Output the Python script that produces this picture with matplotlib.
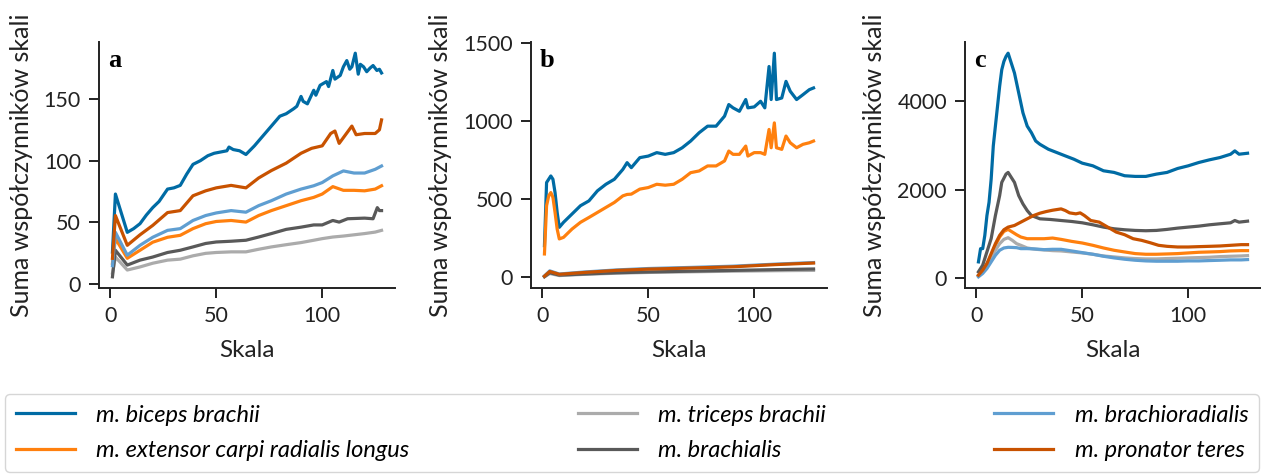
import numpy as np
import matplotlib
matplotlib.use("Agg")
import matplotlib.pyplot as plt

plt.rcParams['font.family'] = ['Lato', 'DejaVu Sans']

labels = ["m. biceps brachii", "m. extensor carpi radialis longus", "m. triceps brachii",
          "m. brachialis", "m. brachioradialis", "m. pronator teres"]
colors = ['#006BA4', '#FF800E', '#ABABAB', '#595959', '#5F9ED1', '#C85200']

# ---- panel a ----
xa = [1, 2.4, 8, 14, 20, 27, 33, 39, 45, 50, 57, 64, 70, 76, 83, 90, 96, 100, 105, 110, 115, 120, 125, 128]
a_biceps_x = [1, 2.4, 8, 11, 14, 17, 20, 23, 27, 30, 33, 36, 39, 42.5, 46, 49, 52, 55, 56, 58, 61, 64, 68, 71, 74,
              77, 80, 83, 86.5, 88, 90, 91, 93, 96, 97, 99, 102, 103, 105, 106, 108.5, 110, 111.6, 113, 114, 115.6,
              117, 118, 119.5, 121, 122.6, 124, 125.8, 127, 128]
a_biceps = [26, 73, 42, 45, 49, 56, 62, 67, 77, 78, 80, 89, 97, 100, 104, 106, 107, 108, 111, 109, 108, 105, 112,
            118, 124, 130, 136, 138, 142, 144, 152, 148, 146, 157, 153, 161, 164, 160, 173, 166, 169, 176, 181, 174,
            176, 187, 170, 178, 176, 172, 175, 177, 173, 174, 171]
a_extensor = [17, 37, 21, 27.5, 34, 38, 39.6, 45, 49, 50.8, 51.6, 50.3, 55.6, 59.6, 63.6, 67.6, 70.3, 73, 79, 76, 76, 75.6, 77, 79.7]
a_triceps = [9, 22, 11.5, 14, 17, 19.5, 20.3, 23, 25, 25.7, 26.2, 26.2, 28.3, 30.2, 32, 33.7, 35.6, 36.9, 38.2, 39, 40, 41, 42.2, 43.6]
a_brachialis_x = xa[:19] + [108, 112, 120, 124, 126, 127, 128]
a_brachialis = [6, 27.5, 15.5, 19.5, 22, 25.7, 27.5, 30.2, 33, 34.2, 34.8, 35.6, 38.2, 41, 44.4, 46.2, 48, 48, 51.6,
                50.3, 53, 53.5, 53, 62, 59.6, 59.6]
a_brachiorad = [15, 42, 23.5, 31.5, 38, 43.6, 45, 51.6, 55.6, 57.7, 59.6, 58.3, 63.6, 67.6, 73, 77, 79.7, 82.3, 87.7, 91.7, 90, 90, 93, 95.7]
a_pronator_x = [1, 2.4, 8, 14, 20, 27, 33, 39, 45, 50, 57, 64, 70, 76, 83, 90, 95, 100, 104, 106, 108, 111, 114,
                116, 120, 125, 127, 128]
a_pronator = [21, 55.6, 31.5, 40, 47.6, 58, 59.6, 71.6, 75.6, 78, 80, 78, 86, 92, 98, 106, 110, 112, 122, 124, 114,
              121, 128, 121, 122, 122, 125, 133]

# ---- panel b ----
xb = [1, 2, 3, 4, 5, 6, 7, 8, 10, 14, 18, 22, 26, 30, 34, 38, 40, 42, 46, 50, 54, 58, 62, 66, 70, 74, 78, 82, 86,
      88, 90, 93, 96, 97, 100, 103, 105, 107, 108, 109.5, 110.5, 113, 115, 117, 120, 123, 126, 128]
b_biceps = [203, 606, 627, 648, 627, 542, 415, 320, 352, 405, 458, 489, 553, 595, 627, 690, 733, 701, 765, 775, 797,
            786, 797, 828, 871, 924, 966, 966, 1030, 1104, 1083, 1061, 1136, 1083, 1089, 1125, 1083, 1347, 1136, 1432,
            1136, 1146, 1252, 1189, 1136, 1167, 1199, 1210]
b_extensor = [150, 458, 521, 542, 511, 415, 309, 246, 256, 309, 352, 383, 415, 447, 479, 521, 530, 532, 564, 574, 595,
              589, 595, 627, 669, 680, 712, 712, 744, 807, 786, 786, 839, 775, 797, 797, 786, 945, 828, 987, 828, 818,
              903, 860, 828, 850, 860, 871]
xb2 = [1, 3.5, 8, 20, 35, 50, 70, 90, 110, 128]
b_triceps = [4, 25, 12, 20, 27, 32, 36, 40, 43, 45]
b_brachialis = [5, 30, 15, 22, 30, 35, 40, 45, 50, 54]
b_brachiorad = [10, 42, 22, 35, 48, 57, 64, 72, 85, 95]
b_pronator = [8, 38, 20, 32, 45, 53, 60, 68, 82, 92]

# ---- panel c ----
c_biceps_x = [1, 2, 3, 4, 5, 6, 7, 8, 9, 10, 11, 12, 13, 14, 15, 16, 18, 20, 22, 24, 26, 28, 30, 34, 38, 42, 46, 50,
              55, 60, 65, 70, 75, 80, 85, 90, 95, 100, 105, 110, 115, 120, 122, 124, 128]
c_biceps = [374, 673, 673, 972, 1420, 1720, 2243, 2990, 3440, 3888, 4336, 4710, 4897, 5009, 5084, 4935, 4636, 4187,
            3738, 3439, 3290, 3103, 3028, 2916, 2841, 2766, 2692, 2602, 2542, 2430, 2393, 2318, 2303, 2303, 2355, 2393,
            2482, 2542, 2617, 2677, 2729, 2804, 2879, 2804, 2826]
c_brachialis_x = [1, 3, 5, 7, 9, 11, 12, 14, 15, 16, 18, 20, 22, 24, 26, 30, 35, 40, 45, 50, 55, 60, 65, 70, 75, 80,
                  85, 90, 95, 100, 105, 110, 115, 120, 122, 124, 128]
c_brachialis = [150, 300, 600, 900, 1420, 1870, 2168, 2355, 2393, 2318, 2168, 1870, 1682, 1533, 1420, 1346, 1331,
                1308, 1286, 1256, 1211, 1159, 1121, 1099, 1084, 1077, 1084, 1107, 1136, 1159, 1181, 1211, 1234, 1256,
                1308, 1271, 1293]
c_pronator_x = [1, 3, 5, 7, 9, 11, 13, 15, 18, 21, 24, 27, 30, 33, 36, 40, 42, 44, 47, 49, 51, 54, 58, 62, 66, 70,
                74, 78, 82, 86, 90, 95, 100, 105, 110, 115, 120, 125, 128]
c_pronator = [75, 187, 336, 561, 785, 972, 1099, 1159, 1196, 1271, 1346, 1420, 1473, 1510, 1540, 1570, 1533, 1480,
              1458, 1480, 1420, 1308, 1271, 1159, 1047, 987, 897, 860, 807, 748, 725, 710, 710, 718, 725, 733, 748,
              763, 763]
xc = [1, 3, 5, 7, 9, 11, 13, 15, 17, 19, 21, 24, 28, 32, 36, 40, 45, 50, 55, 60, 65, 70, 75, 80, 85, 90, 95, 100,
      105, 110, 115, 120, 125, 128]
c_extensor = [60, 150, 300, 523, 748, 935, 1062, 1107, 1047, 987, 935, 897, 897, 897, 912, 882, 837, 800, 748, 688,
              636, 598, 561, 546, 546, 553, 561, 576, 591, 598, 606, 621, 628, 628]
c_triceps = [75, 187, 336, 486, 636, 785, 882, 920, 860, 785, 748, 688, 658, 643, 628, 621, 598, 576, 546, 508, 486,
             464, 449, 441, 441, 449, 456, 464, 471, 479, 493, 501, 508, 516]
c_brachiorad = [37, 112, 224, 374, 523, 636, 688, 703, 700, 695, 673, 673, 665, 650, 658, 658, 621, 583, 546, 501,
                464, 434, 411, 396, 389, 389, 389, 396, 396, 404, 411, 419, 419, 426]

panels = [
    ("a", [(a_biceps_x, a_biceps), (xa, a_extensor), (xa, a_triceps), (a_brachialis_x, a_brachialis),
           (xa, a_brachiorad), (a_pronator_x, a_pronator)], [0, 50, 100, 150]),
    ("b", [(xb, b_biceps), (xb, b_extensor), (xb2, b_triceps), (xb2, b_brachialis),
           (xb2, b_brachiorad), (xb2, b_pronator)], [0, 500, 1000, 1500]),
    ("c", [(c_biceps_x, c_biceps), (xc, c_extensor), (xc, c_triceps), (c_brachialis_x, c_brachialis),
           (xc, c_brachiorad), (c_pronator_x, c_pronator)], [0, 2000, 4000]),
]

W, H = 1261, 475
fig = plt.figure(figsize=(W / 100, H / 100), dpi=100)
lefts = [99, 531, 965]
handles = []
ink = '#222222'
for (name, series, yt), left in zip(panels, lefts):
    ax = fig.add_axes([left / W, 1 - 288 / H, 296 / W, 246 / H])
    for (x, y), c, lab in zip(series, colors, labels):
        ln, = ax.plot(x, y, color=c, lw=2.3, label=lab)
        if name == "a":
            handles.append(ln)
    ax.set_xticks([0, 50, 100])
    ax.set_yticks(yt)
    ax.spines['top'].set_visible(False)
    ax.spines['right'].set_visible(False)
    for s in ['left', 'bottom']:
        ax.spines[s].set_linewidth(1.4)
        ax.spines[s].set_color(ink)
    ax.tick_params(labelsize=15.5, length=7, width=1.4, pad=6, color=ink, labelcolor=ink)
    ax.set_xlabel("Skala", fontsize=17.5, color=ink, labelpad=10)
    ax.set_ylabel("Suma współczynników skali", fontsize=18, color=ink, labelpad=8)
    ax.text(0.03, 0.97, name, transform=ax.transAxes, fontsize=19, fontweight='bold',
            family='Liberation Serif', va='top', ha='left')

fig.legend(handles=handles, loc='lower left', ncol=3, mode='expand',
           bbox_to_anchor=(5 / W, 3 / H, 1254 / W, 80 / H), prop={'style': 'italic', 'size': 17},
           handlelength=2.5, handletextpad=0.9, frameon=True, edgecolor='#cccccc', fancybox=True,
           borderaxespad=0, labelspacing=0.62, borderpad=0.45)

fig.savefig("out.png", dpi=100)
